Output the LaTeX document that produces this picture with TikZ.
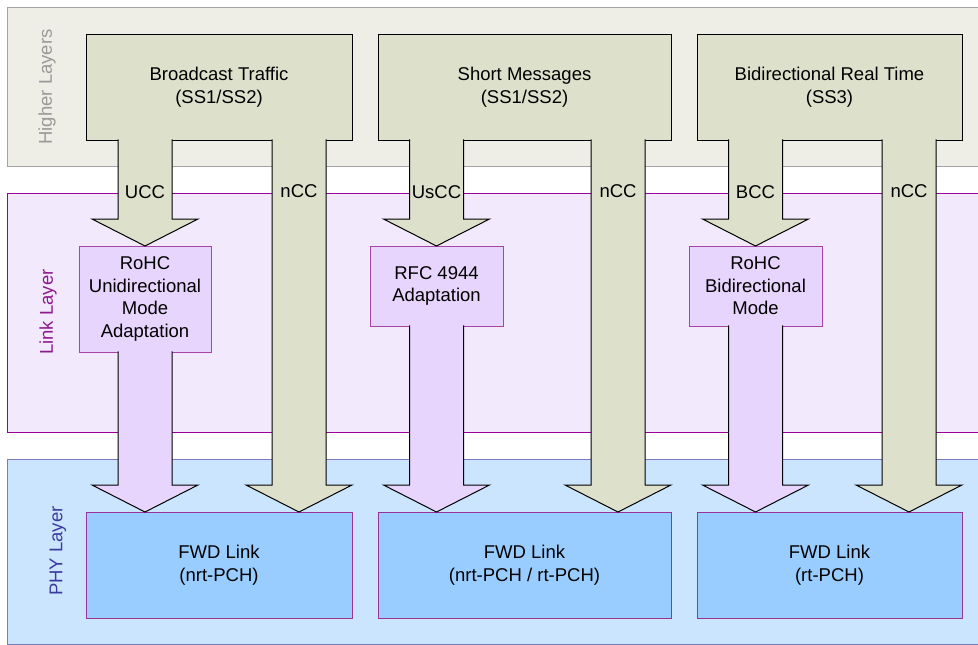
\documentclass[tikz,border=0pt]{standalone}
\usepackage{fontspec}
\setmainfont{Liberation Sans}
\usetikzlibrary{calc}
\definecolor{hlfill}{HTML}{EEEEE7}
\definecolor{hldraw}{HTML}{A3A3A3}
\definecolor{hltext}{HTML}{999999}
\definecolor{llfill}{HTML}{F2E9FD}
\definecolor{lldraw}{HTML}{990099}
\definecolor{lltext}{HTML}{8E1A8E}
\definecolor{plfill}{HTML}{CCE5FF}
\definecolor{pldraw}{HTML}{7A7AC4}
\definecolor{pltext}{HTML}{3A3AA0}
\definecolor{olive}{HTML}{DDE1CC}
\definecolor{adfill}{HTML}{E8D5FD}
\definecolor{addraw}{HTML}{A645A6}
\definecolor{fwdfill}{HTML}{99CCFF}
\definecolor{fwddraw}{HTML}{993399}
\tikzset{
    layertag/.style={rotate=90,inner sep=0pt},
    srcbox/.style={draw=black,fill=olive,line width=1pt,
      minimum height=106,inner sep=0pt,outer sep=0pt,align=center},
    adbox/.style={draw=addraw,fill=adfill,line width=1pt,
      minimum width=133,inner sep=0pt,outer sep=0pt,align=center},
    fwdbox/.style={draw=fwddraw,fill=fwdfill,line width=1pt,
      minimum height=106,inner sep=0pt,outer sep=0pt,align=center},
    fatline/.style={draw=black,line width=1pt,line join=miter},
    cclabel/.style={anchor=base,inner sep=0pt}
}
% #1 fill, #2 top of the stem, #3 tip
\newcommand\blockarrow[3]{%
  \filldraw[fatline,fill=#1] let \p1=#2,\p2=#3 in
    (\x1-27pt,\y1+.6pt) -- (\x1-27pt,\y2+27pt) -- (\x1-53pt,\y2+27pt) -- (\x1,\y2)
    -- (\x1+53pt,\y2+27pt) -- (\x1+27pt,\y2+27pt) -- (\x1+27pt,\y1+.6pt);}

\begin{document}
\begin{tikzpicture}[x=1pt,y=-1pt,font=\fontsize{18.5}{22.5}\selectfont]
  \useasboundingbox (0,0) rectangle (978,645);
  \clip (0,0) rectangle (978,645);
  % layers
  \draw[hldraw,fill=hlfill,line width=1pt] (7,7) rectangle (990,166);
  \draw[lldraw,fill=llfill,line width=1pt] (7,193) rectangle (990,432);
  \draw[pldraw,fill=plfill,line width=1pt] (7,459) rectangle (990,644);
  \node[layertag,text=hltext] (lhigher) at (47,87) {Higher Layers};
  \node[layertag,text=lltext] (llink) at (48,312) {Link Layer};
  \node[layertag,text=pltext] (lphy) at (58,551) {PHY Layer};

  \node[srcbox,minimum width=266] (src1) at (219,87) {Broadcast Traffic\\(SS1/SS2)};
  \node[srcbox,minimum width=293] (src2) at (524.5,87) {Short Messages\\(SS1/SS2)};
  \node[srcbox,minimum width=265] (src3) at (829.5,87) {Bidirectional Real Time\\(SS3)};

  \node[adbox,minimum width=132,minimum height=106] (ad1) at (145,299)
    {RoHC\\Unidirectional\\Mode\\Adaptation};
  \node[adbox,minimum height=80] (ad2) at (436.5,286) {RFC 4944\\Adaptation};
  \node[adbox,minimum height=80] (ad3) at (755.5,286) {RoHC\\Bidirectional\\Mode};

  \node[fwdbox,minimum width=266] (fwd1) at (219,565) {FWD Link\\(nrt-PCH)};
  \node[fwdbox,minimum width=293] (fwd2) at (524.5,565) {FWD Link\\(nrt-PCH / rt-PCH)};
  \node[fwdbox,minimum width=265] (fwd3) at (829.5,565) {FWD Link\\(rt-PCH)};

  % compressed flows
  \blockarrow{olive}{(ad1.north |- src1.south)}{(ad1.north)}
  \blockarrow{olive}{(ad2.north |- src2.south)}{(ad2.north)}
  \blockarrow{olive}{(ad3.north |- src3.south)}{(ad3.north)}
  \blockarrow{adfill}{(ad1.south)}{(fwd1.north)}
  \blockarrow{adfill}{(ad2.south)}{(fwd2.north)}
  \blockarrow{adfill}{(ad3.south)}{(fwd3.north)}
  % uncompressed flows
  \foreach \i in {1,2,3}
    \blockarrow{olive}{([xshift=-53pt]src\i.south east)}{(fwd\i.north)};

  \node[cclabel] (ucc) at (145,198) {UCC};
  \node[cclabel] (uscc) at (436.5,198) {UsCC};
  \node[cclabel] (bcc) at (755.5,198) {BCC};
  \node[cclabel] (ncc1) at (299,197) {nCC};
  \node[cclabel] (ncc2) at (618,197) {nCC};
  \node[cclabel] (ncc3) at (909,197) {nCC};
\end{tikzpicture}
\end{document}
